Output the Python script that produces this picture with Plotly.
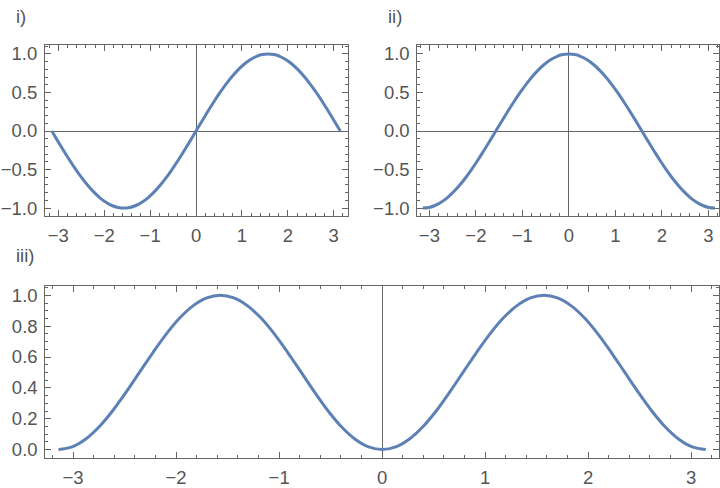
import plotly.graph_objects as go

# sample positions (steps of pi/24 from -pi to pi)
x_vals = [-3.142, -3.011, -2.880, -2.749, -2.618, -2.487, -2.356, -2.225, -2.094, -1.963,
          -1.833, -1.702, -1.571, -1.440, -1.309, -1.178, -1.047, -0.916, -0.785, -0.654,
          -0.524, -0.393, -0.262, -0.131, 0.000, 0.131, 0.262, 0.393, 0.524, 0.654,
          0.785, 0.916, 1.047, 1.178, 1.309, 1.440, 1.571, 1.702, 1.833, 1.963,
          2.094, 2.225, 2.356, 2.487, 2.618, 2.749, 2.880, 3.011, 3.142]

# panel i)
curve_i = [0.000, -0.131, -0.259, -0.383, -0.500, -0.609, -0.707, -0.793, -0.866, -0.924,
           -0.966, -0.991, -1.000, -0.991, -0.966, -0.924, -0.866, -0.793, -0.707, -0.609,
           -0.500, -0.383, -0.259, -0.131, 0.000, 0.131, 0.259, 0.383, 0.500, 0.609,
           0.707, 0.793, 0.866, 0.924, 0.966, 0.991, 1.000, 0.991, 0.966, 0.924,
           0.866, 0.793, 0.707, 0.609, 0.500, 0.383, 0.259, 0.131, 0.000]

# panel ii)
curve_ii = [-1.000, -0.991, -0.966, -0.924, -0.866, -0.793, -0.707, -0.609, -0.500, -0.383,
            -0.259, -0.131, 0.000, 0.131, 0.259, 0.383, 0.500, 0.609, 0.707, 0.793,
            0.866, 0.924, 0.966, 0.991, 1.000, 0.991, 0.966, 0.924, 0.866, 0.793,
            0.707, 0.609, 0.500, 0.383, 0.259, 0.131, 0.000, -0.131, -0.259, -0.383,
            -0.500, -0.609, -0.707, -0.793, -0.866, -0.924, -0.966, -0.991, -1.000]

# panel iii)
curve_iii = [0.000, 0.017, 0.067, 0.146, 0.250, 0.371, 0.500, 0.629, 0.750, 0.854,
             0.933, 0.983, 1.000, 0.983, 0.933, 0.854, 0.750, 0.629, 0.500, 0.371,
             0.250, 0.146, 0.067, 0.017, 0.000, 0.017, 0.067, 0.146, 0.250, 0.371,
             0.500, 0.629, 0.750, 0.854, 0.933, 0.983, 1.000, 0.983, 0.933, 0.854,
             0.750, 0.629, 0.500, 0.371, 0.250, 0.146, 0.067, 0.017, 0.000]

x_ticks = [-3, -2, -1, 0, 1, 2, 3]
y_ticks_pm = [-1.0, -0.5, 0.0, 0.5, 1.0]
y_ticks_pos = [0.0, 0.2, 0.4, 0.6, 0.8, 1.0]
panel_labels = ["i)", "ii)", "iii)"]

LINE_COLOR = "#5E81B5"
FRAME = "#666666"
TEXT = "#555555"
FONT = "Liberation Sans"

fig = go.Figure()
for ys, xa, ya in [(curve_i, "x", "y"), (curve_ii, "x2", "y2"), (curve_iii, "x3", "y3")]:
    fig.add_trace(go.Scatter(x=x_vals, y=ys, xaxis=xa, yaxis=ya, mode="lines",
                             line=dict(color=LINE_COLOR, width=3, shape="spline"),
                             showlegend=False, hoverinfo="skip"))


def x_axis(domain, rng, anchor):
    return dict(domain=domain, range=rng, anchor=anchor,
                tickvals=x_ticks, ticks="inside", ticklen=6, tickcolor=FRAME,
                minor=dict(ticks="inside", ticklen=3, dtick=0.2, tick0=0, tickcolor=FRAME),
                showline=True, linecolor=FRAME, linewidth=1, mirror="ticks",
                showgrid=False, zeroline=True, zerolinecolor=FRAME, zerolinewidth=1,
                ticklabelstandoff=3,
                tickfont=dict(family=FONT, size=18.5, color=TEXT))


def y_axis(domain, rng, anchor, vals, minor_step, zero=True):
    return dict(domain=domain, range=rng, anchor=anchor,
                tickvals=vals, tickformat=".1f", ticks="inside", ticklen=6, tickcolor=FRAME,
                minor=dict(ticks="inside", ticklen=3, dtick=minor_step, tick0=0, tickcolor=FRAME),
                showline=True, linecolor=FRAME, linewidth=1, mirror="ticks",
                showgrid=False, zeroline=zero, zerolinecolor=FRAME, zerolinewidth=1,
                ticklabelstandoff=3,
                tickfont=dict(family=FONT, size=18.5, color=TEXT))


fig.update_layout(
    width=720, height=488,
    margin=dict(l=0, r=0, t=0, b=0),
    paper_bgcolor="white", plot_bgcolor="white",
    xaxis=x_axis([0.0625, 0.4833], [-3.29, 3.31], "y"),
    yaxis=y_axis([0.5574, 0.9119], [-1.105, 1.12], "x", y_ticks_pm, 0.1),
    xaxis2=x_axis([0.5796, 0.9986], [-3.26, 3.23], "y2"),
    yaxis2=y_axis([0.5574, 0.9119], [-1.105, 1.12], "x2", y_ticks_pm, 0.1),
    xaxis3=x_axis([0.0629, 0.9986], [-3.27, 3.27], "y3"),
    yaxis3=y_axis([0.0574, 0.4125], [-0.056, 1.058], "x3", y_ticks_pos, 0.05, zero=False),
)

label_pos = [(14, 15), (386, 15), (14, 256)]
for text, (px, py) in zip(panel_labels, label_pos):
    fig.add_annotation(text=text, x=px / 720, y=1 - py / 488, xref="paper", yref="paper",
                       xanchor="left", yanchor="middle", showarrow=False,
                       font=dict(family=FONT, size=18.5, color=TEXT))

# drop the default page margin so the 720x488 figure fills the window
fig.write_html("out.html", config={"displayModeBar": False},
               post_script="document.body.style.margin='0';")
